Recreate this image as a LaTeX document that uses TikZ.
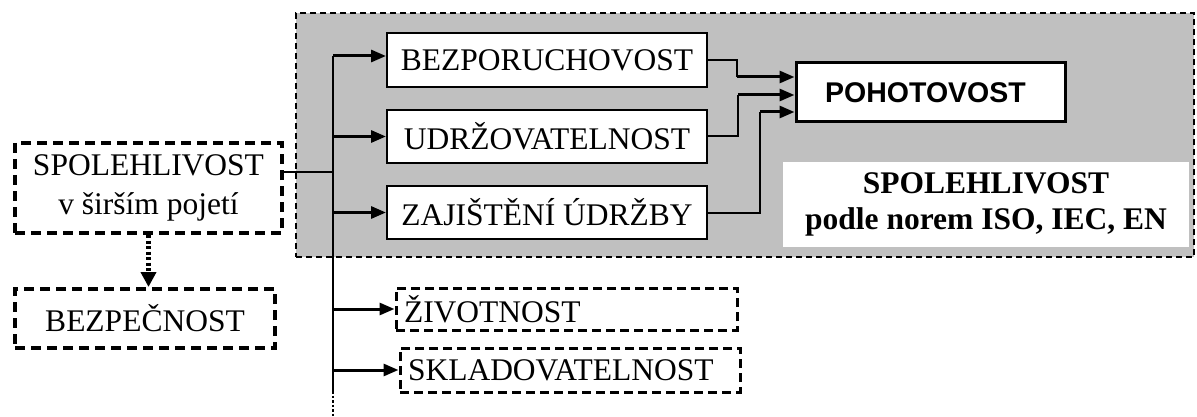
\documentclass[tikz,border=0pt]{standalone}
\usepackage{fontspec}
\setmainfont{Liberation Serif}
\newfontfamily\headsans{Liberation Sans}
\usetikzlibrary{arrows.meta,calc}

\tikzset{
  serif/.style={font=\fontsize{31.5}{38}\selectfont},
  solidbox/.style={draw, line width=2pt, fill=white, inner sep=0pt, serif},
  dashbox/.style={draw, line width=4pt, dash pattern=on 10pt off 6pt, fill=white, inner sep=0pt, serif},
  thinline/.style={line width=1.5pt},
  link/.style={line width=2pt},
  arr/.style={line width=3pt, -{Triangle[length=15pt,width=12pt]}},
  dotarr/.style={line width=4.5pt, dash pattern=on 3pt off 2.5pt, -{Triangle[length=15pt,width=15pt]}},
}

\begin{document}
\begin{tikzpicture}[x=1pt,y=-1pt]
\useasboundingbox (0,0) rectangle (1197,417);

% grey region of the standardised notion
\node[draw, fill={rgb,255:red,192;green,192;blue,192}, line width=2pt,
      dash pattern=on 6pt off 4pt, minimum width=898pt, minimum height=244pt,
      inner sep=0pt] (region) at (745,135) {};

% inner boxes
\node[solidbox, minimum width=320pt, minimum height=54pt] (bez) at (547,60) {BEZPORUCHOVOST};
\node[solidbox, minimum width=320pt, minimum height=53pt] (udr) at (547,136.5) {UDRŽOVATELNOST};
\node[solidbox, minimum width=320pt, minimum height=53pt] (zaj) at (547,212.5) {ZAJIŠTĚNÍ ÚDRŽBY};
\node[draw, line width=3pt, fill=white, inner sep=0pt, minimum width=269pt, minimum height=59pt,
      font=\headsans\bfseries\fontsize{28.5}{34}\selectfont] (poh) at (930.5,92.5)
      {\hspace*{-10pt}POHOTOVOST};
\node[fill=white, inner sep=0pt, minimum width=406pt, minimum height=85pt, align=center,
      font=\bfseries\fontsize{31.5}{36}\selectfont] (norm) at (986,204.5)
      {SPOLEHLIVOST\\podle norem ISO, IEC, EN};

% outer boxes
\node[dashbox, minimum width=267pt, minimum height=90pt, align=center,
      font=\fontsize{31.5}{39}\selectfont] (spol) at (148.5,188) {SPOLEHLIVOST\\v širším pojetí};
\node[dashbox, minimum width=260pt, minimum height=59pt] (bezp) at (145,318.5) {BEZPEČNOST};
\node[dashbox, line width=3pt, dash pattern=on 9pt off 5pt, minimum height=42pt,
      text width=325pt, inner xsep=8pt, align=left] (ziv) at (566.5,309) {ŽIVOTNOST};
\node[dashbox, line width=3pt, dash pattern=on 9pt off 5pt, minimum height=44pt,
      text width=324pt, inner xsep=8pt, align=left] (skl) at (570,370) {SKLADOVATELNOST};

% trunk
\coordinate (tTop) at (333,56);
\coordinate (tIn)  at (333,172);
\coordinate (tEnd) at (333,391);
\coordinate (tDot) at (333,417);
\draw[thinline] (spol.east |- tIn) -- (tIn);
\draw[link] (tTop) -- (tEnd);
\draw[line width=2.5pt, dash pattern=on 2.5pt off 2pt] (tEnd) -- (tDot);

\draw[arr] (tTop) -- (bez.west |- tTop);
\draw[arr] (tTop |- udr.west) -- (udr.west);
\draw[arr] (tTop |- zaj.west) -- (zaj.west);
\draw[arr] (tTop |- ziv.west) -- (ziv.west);
\draw[arr] (tTop |- skl.west) -- (skl.west);

% inputs of POHOTOVOST
\coordinate (j1) at (737,77);
\coordinate (j2) at (738,95);
\coordinate (j3) at (760,112);
\draw[thinline] (bez.east) -| (j1);
\draw[link] (udr.east) -| (j2);
\draw[link] (zaj.east) -| (j3);
\draw[arr] (j1) -- (poh.west |- j1);
\draw[arr] (j2) -- (poh.west |- j2);
\draw[arr] (j3) -- (poh.west |- j3);

% dotted link to safety
\draw[dotarr] (spol.south) -- (spol.south |- bezp.north);
\end{tikzpicture}
\end{document}
